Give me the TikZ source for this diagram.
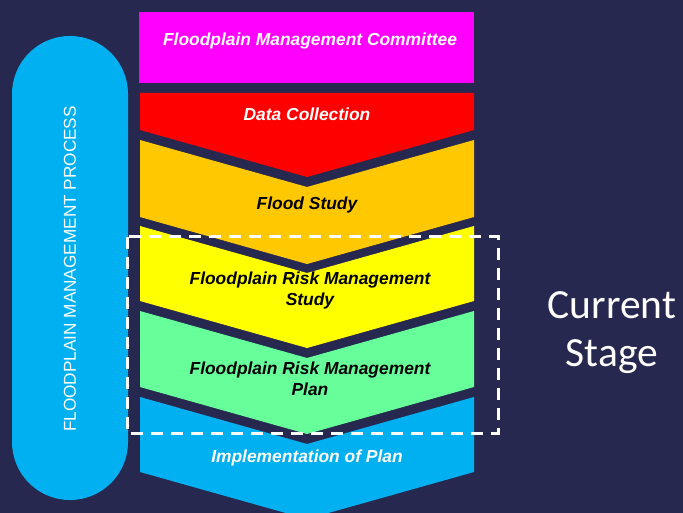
\documentclass[tikz,border=0pt]{standalone}
\usepackage{fontspec}
\setmainfont{Liberation Sans}
\newfontfamily\stagefont{Carlito}
\definecolor{bgnavy}{HTML}{272850}
\definecolor{pillblue}{HTML}{00B0F0}
\definecolor{cmag}{HTML}{FF00FF}
\definecolor{cred}{HTML}{FF0000}
\definecolor{corange}{HTML}{FFC800}
\definecolor{cyellow}{HTML}{FFFF00}
\definecolor{cgreen}{HTML}{66FF99}
\definecolor{cblue}{HTML}{00B0F0}
\tikzset{
  chevtext/.style={font=\fontsize{17.4}{21}\selectfont\bfseries\itshape, align=center, inner sep=0pt},
  stagetext/.style={font=\stagefont\fontsize{41.5}{46}\selectfont, text=white, inner sep=0pt, anchor=base},
  sidetext/.style={font=\fontsize{17.2}{20}\selectfont, text=white, inner sep=0pt, rotate=90},
  dashbox/.style={draw=white, line width=3pt, dash pattern=on 12pt off 8pt}
}
\newcommand{\chevshape}[4]{% color, top, sidebottom, notch(1/0)
  \fill[#1] (140,#2) -- (307,{#2+#4*47}) -- (474,#2) -- (474,#3) -- (307,{#3+47}) -- (140,#3) -- cycle;}
\begin{document}
\begin{tikzpicture}[x=1pt,y=-1pt]
\fill[bgnavy] (0,0) rectangle (683,513);
\useasboundingbox (0,0) rectangle (683,513);
\begin{scope}
\clip (0,0) rectangle (683,513);
% pill
\fill[pillblue, rounded corners=58pt] (12,36) rectangle (128,500);
\node[sidetext] (side) at (70,269) {FLOODPLAIN MANAGEMENT PROCESS};
% committee
\fill[cmag] (139,12) rectangle (474,83);
\node[chevtext, text=white] (comm) at (310,41) {Floodplain Management Committee};
% chevrons
\chevshape{cred}{93}{130}{0}
\node[chevtext, text=white] (data) at (307,114) {Data Collection};
\chevshape{corange}{140}{217}{1}
\node[chevtext, text=black] (flood) at (307,205) {Flood Study};
\chevshape{cyellow}{226}{301}{1}
\node[chevtext, text=black] (frms) at (310,291) {Floodplain Risk Management\\Study};
\chevshape{cgreen}{311}{387}{1}
\node[chevtext, text=black] (frmp) at (310,379) {Floodplain Risk Management\\Plan};
\chevshape{cblue}{397}{472}{1}
\node[chevtext, text=white] (impl) at (307,458) {Implementation of Plan};
% dashed current-stage box
\draw[dashbox] (127,237) rectangle (498,433);
\node[stagetext] (stage1) at (612,318) {Current};
\node[stagetext] (stage2) at (612,366) {Stage};
\end{scope}
\end{tikzpicture}
\end{document}
